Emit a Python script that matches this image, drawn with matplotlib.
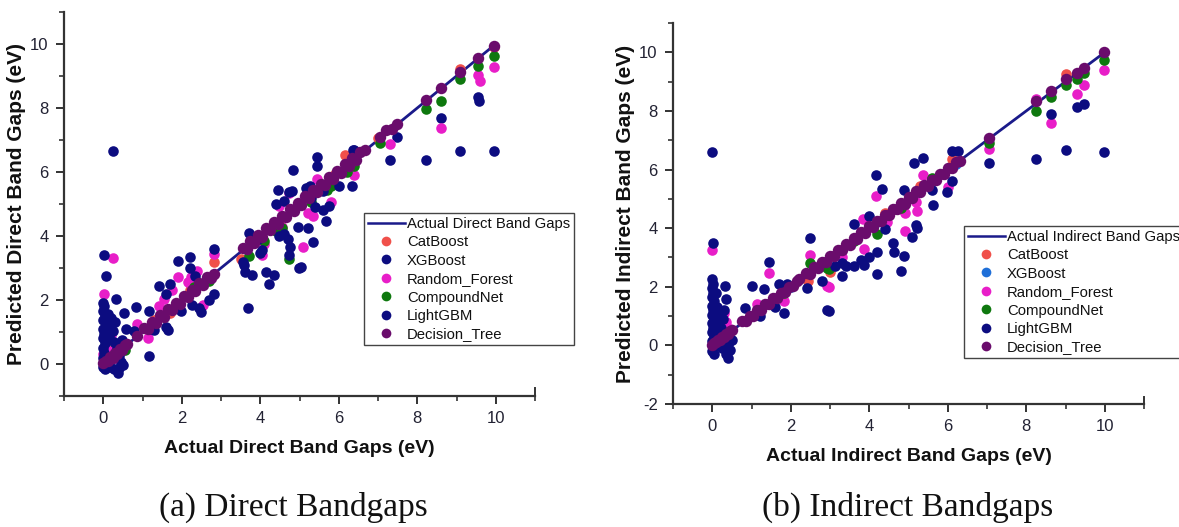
import matplotlib
matplotlib.use("Agg")
import matplotlib.pyplot as plt
from matplotlib.lines import Line2D

# ---------------- data : Direct band gaps (left) ----------------
d_dt_x = [0.0, 0.06, 0.12, 0.18, 0.24, 0.30, 0.36, 0.42, 0.48, 0.55, 0.60, 0.86,
          1.05, 1.15, 1.25, 1.35, 1.45, 1.55, 1.65, 1.75, 1.85, 1.95, 2.05, 2.15, 2.25,
          2.35, 2.45, 2.55, 2.65, 2.75, 2.83,
          3.55, 3.65, 3.75, 3.85, 3.95, 4.05, 4.15, 4.25, 4.35, 4.45, 4.55, 4.65, 4.75,
          4.85, 4.95, 5.05, 5.15, 5.25, 5.35, 5.45, 5.55, 5.65, 5.75, 5.85, 5.95, 6.05,
          6.15, 6.25, 6.35, 6.45, 6.55, 6.68,
          7.05, 7.20, 7.35, 7.48, 8.23, 8.61, 9.10, 9.55, 9.95]
d_dt_y = [0.02, 0.09, 0.08, 0.23, 0.20, 0.34, 0.32, 0.47, 0.44, 0.60, 0.62, 0.88,
          1.12, 1.08, 1.32, 1.29, 1.52, 1.48, 1.72, 1.69, 1.92, 1.88, 2.12, 2.08, 2.32,
          2.28, 2.52, 2.48, 2.72, 2.68, 2.82,
          3.64, 3.58, 3.84, 3.78, 4.04, 3.98, 4.24, 4.18, 4.44, 4.38, 4.64, 4.58, 4.84,
          4.78, 5.04, 4.98, 5.24, 5.18, 5.44, 5.38, 5.64, 5.58, 5.84, 5.78, 6.04, 5.98,
          6.24, 6.18, 6.44, 6.38, 6.62, 6.68,
          7.10, 7.30, 7.35, 7.49, 8.24, 8.64, 9.13, 9.55, 9.95]

d_cat_x = [0.25, 1.30, 2.83, 3.51, 4.50, 5.90, 6.17, 7.00, 9.10, 9.95, 2.20, 1.70]
d_cat_y = [0.45, 1.38, 3.18, 3.28, 4.35, 5.95, 6.52, 7.05, 9.23, 9.90, 2.30, 1.60]

d_xgb_x = [0.24, 9.95, 9.10, 8.23, 7.30, 9.55, 9.58, 8.61, 7.48]
d_xgb_y = [6.66, 6.66, 6.66, 6.39, 6.39, 8.35, 8.23, 7.70, 7.09]

d_rf_x = [0.24, 0.03, 0.86, 1.13, 1.43, 1.55, 1.75, 1.90, 2.24, 2.83, 2.55, 2.40, 2.15,
          0.05, 0.00, 0.20, 0.25, 0.50, 0.55, 0.30,
          4.48, 4.55, 4.10, 4.05, 5.09, 5.21, 5.34, 5.45, 5.81, 6.40, 4.73, 7.31,
          9.95, 9.55, 9.60, 8.61]
d_rf_y = [3.31, 2.18, 1.26, 0.82, 1.82, 2.03, 2.30, 2.71, 2.71, 3.44, 1.84, 2.90, 2.55,
          0.50, 0.30, 0.90, 0.40, 0.70, 0.55, 0.20,
          4.95, 4.27, 3.75, 3.40, 3.65, 4.72, 4.61, 5.79, 5.06, 5.90, 5.35, 6.87,
          9.29, 9.03, 8.85, 7.39]

d_cn_x = [3.71, 4.73, 9.95, 9.55, 9.10, 8.61, 8.23, 7.05, 4.55, 5.30, 5.70, 6.20, 2.30,
          2.70, 0.30, 0.55, 4.10, 4.40, 5.80, 6.40]
d_cn_y = [3.39, 3.28, 9.62, 9.30, 8.90, 8.22, 7.96, 6.90, 4.25, 5.05, 5.45, 6.00, 2.40,
          2.60, 0.35, 0.45, 3.85, 4.15, 5.55, 6.20]

d_lgb_x = [0.03, 0.07, 0.32, 0.00, 0.02, 0.00, 0.04, 0.00, 0.06, 0.00, 0.03, 0.00, 0.05,
           0.00, 0.02, 0.00, 0.03, 0.00, 0.05, 0.12, 0.15, 0.14, 0.20, 0.24, 0.28, 0.30,
           0.36, 0.40, 0.45, 0.41, 0.37, 0.50, 0.28, 0.18, 0.12, 0.47, 0.54, 0.57, 0.83,
           1.16, 1.17, 0.79, 1.20, 1.60, 1.43, 1.60, 1.70, 1.90, 2.20, 2.22, 2.35, 1.98,
           2.25, 2.45, 2.49, 2.70, 2.83, 2.83, 1.30, 1.64,
           3.68, 3.55, 3.60, 3.58, 3.78, 3.72, 4.00, 4.05, 4.15, 4.36, 4.23, 4.48, 4.60,
           4.70, 4.75, 4.73, 5.04, 4.98, 5.34, 5.21, 5.68, 5.60, 5.75, 4.45, 4.73, 4.83,
           5.45, 5.45, 5.27, 6.00, 6.34, 6.36, 6.40, 4.95, 5.30, 5.40, 5.60, 5.17, 4.80,
           4.40, 4.60, 3.95]
d_lgb_y = [3.42, 2.76, 2.04, 1.92, 1.80, 1.65, 1.50, 1.38, 1.25, 1.10, 0.95, 0.80, 0.65,
           0.50, 0.35, 0.20, 0.05, -0.10, -0.15, 1.55, 1.20, 0.85, 1.45, 1.03, 0.70, 1.30,
           0.50, 0.25, 0.05, -0.12, -0.28, -0.02, -0.15, -0.08, 0.10, 0.75, 1.60, 1.10, 1.77,
           1.67, 0.25, 1.03, 1.10, 1.15, 2.44, 2.20, 2.50, 3.23, 3.35, 3.00, 2.76, 1.66,
           1.85, 1.75, 1.61, 2.00, 2.18, 3.59, 1.06, 1.07,
           1.74, 3.20, 2.86, 3.09, 2.77, 4.09, 3.48, 3.55, 2.86, 2.79, 2.50, 4.01, 4.05,
           3.90, 3.65, 3.42, 3.04, 3.00, 3.80, 4.25, 4.46, 4.80, 4.95, 5.44, 5.37, 6.07,
           6.47, 6.18, 5.55, 5.55, 5.55, 6.68, 6.70, 4.27, 5.20, 4.90, 5.40, 5.50, 5.40,
           5.00, 5.10, 3.90]

# ---------------- data : Indirect band gaps (right) ----------------
i_dt_x = [0.0, 0.05, 0.10, 0.15, 0.20, 0.25, 0.30, 0.35, 0.40, 0.45, 0.50,
          0.76, 0.85, 0.95, 1.05, 1.15, 1.25, 1.35, 1.45, 1.55, 1.65, 1.75, 1.85, 1.95,
          2.05, 2.15, 2.22,
          2.40, 2.50, 2.60, 2.70, 2.80, 2.90, 3.00, 3.10, 3.20, 3.30, 3.40, 3.50, 3.60,
          3.70, 3.80, 3.90, 4.00, 4.10, 4.20, 4.30, 4.40, 4.50, 4.60, 4.70, 4.80, 4.90,
          5.00, 5.10, 5.20, 5.30, 5.40, 5.50, 5.60, 5.70, 5.80, 5.90, 6.00, 6.10, 6.20,
          6.30, 7.05, 8.26, 8.64, 9.02, 9.29, 9.46, 9.98]
i_dt_y = [0.03, 0.08, 0.10, 0.19, 0.19, 0.29, 0.28, 0.39, 0.38, 0.48, 0.52,
          0.82, 0.82, 1.00, 1.01, 1.20, 1.21, 1.40, 1.41, 1.60, 1.61, 1.80, 1.81, 2.00,
          2.01, 2.20, 2.25,
          2.46, 2.44, 2.66, 2.64, 2.86, 2.84, 3.06, 3.04, 3.26, 3.24, 3.46, 3.44, 3.66,
          3.64, 3.86, 3.84, 4.06, 4.04, 4.26, 4.24, 4.46, 4.44, 4.66, 4.64, 4.86, 4.84,
          5.06, 5.04, 5.26, 5.24, 5.46, 5.44, 5.66, 5.64, 5.86, 5.84, 6.06, 6.04, 6.26,
          6.30, 7.09, 8.34, 8.68, 9.08, 9.30, 9.48, 10.0]

i_cat_x = [0.20, 2.45, 3.00, 5.30, 6.10, 9.02, 1.20, 4.40]
i_cat_y = [0.30, 2.20, 2.50, 5.45, 6.35, 9.25, 1.30, 4.50]

i_xgb_x = [0.30, 1.00, 2.00, 3.20, 4.20, 5.20, 6.20]
i_xgb_y = [0.30, 1.00, 2.00, 3.20, 4.20, 5.20, 6.20]

i_rf_x = [0.00, 0.05, 0.10, 0.30, 0.35, 0.45, 1.44, 2.50, 2.97, 1.82, 1.15, 4.16, 5.37,
          5.20, 5.22, 4.90, 4.92, 2.93, 3.85, 3.86, 3.30, 4.45, 6.00, 7.05, 8.26, 8.64,
          9.29, 9.46, 9.98, 0.20]
i_rf_y = [3.25, 1.00, 0.60, 1.10, 0.80, 0.55, 2.48, 3.10, 2.00, 1.50, 1.40, 5.10, 5.80,
          4.90, 4.60, 4.50, 3.90, 2.02, 4.30, 3.30, 3.00, 4.20, 5.40, 6.69, 8.40, 7.60,
          8.59, 8.87, 9.40, 0.90]

i_cn_x = [2.50, 2.97, 2.93, 1.82, 4.20, 5.60, 7.05, 8.26, 8.64, 9.02, 9.29, 9.46, 9.98,
          0.30, 3.60, 4.80]
i_cn_y = [2.80, 2.60, 2.65, 1.80, 3.80, 5.70, 6.91, 8.00, 8.48, 8.90, 9.10, 9.30, 9.74,
          0.35, 3.55, 4.70]

i_lgb_x = [0.00, 0.03, 0.00, 0.03, 0.00, 0.02, 0.00, 0.04, 0.00, 0.03, 0.00, 0.05, 0.00,
           0.03, 0.00, 0.04, 0.00, 0.02, 0.00, 0.05, 0.10, 0.12, 0.10, 0.15, 0.20, 0.22,
           0.25, 0.33, 0.35, 0.30, 0.28, 0.39, 0.43, 0.40, 0.45, 0.35, 0.50,
           1.01, 0.84, 1.31, 1.44, 1.70, 1.90, 1.82, 1.60, 2.97, 2.41, 2.80, 1.22,
           2.50, 2.93, 3.31, 3.14, 3.40, 3.60, 3.86, 3.60, 4.00, 4.16, 4.33, 4.00, 4.20,
           4.41, 4.60, 4.62, 4.88, 4.80, 5.10, 5.20, 5.22, 5.14, 5.37, 4.88, 5.60, 5.62,
           5.97, 6.10, 6.10, 6.25, 7.05, 3.80, 3.30, 4.20,
           8.26, 8.64, 9.02, 9.30, 9.47, 9.98]
i_lgb_y = [6.60, 3.48, 2.25, 2.10, 1.95, 1.80, 1.65, 1.50, 1.35, 1.20, 1.05, 0.90, 0.75,
           0.60, 0.45, 0.30, 0.15, -0.05, -0.20, -0.28, 1.80, 1.30, 0.80, 0.40, 1.10, 0.60,
           -0.10, 2.02, 1.57, 1.20, 0.90, -0.42, 0.10, 0.30, -0.15, -0.30, 0.20,
           2.02, 1.29, 1.91, 2.84, 2.10, 2.10, 1.12, 1.30, 1.19, 1.97, 2.20, 1.00,
           3.67, 1.21, 2.37, 2.70, 2.70, 2.70, 2.75, 4.13, 4.40, 5.80, 5.32, 3.00, 2.45,
           3.98, 3.50, 3.20, 3.05, 2.55, 3.70, 4.10, 4.00, 6.21, 6.40, 5.30, 5.30, 4.80,
           5.25, 5.60, 6.63, 6.63, 6.24, 2.90, 2.80, 3.20,
           6.35, 7.88, 6.67, 8.13, 8.22, 6.61]

# ---------------- styling ----------------
C_CAT = "#f0504a"
C_XGB_D = "#0c0c80"
C_XGB_I = "#1f6fd8"
C_RF = "#e81ec8"
C_CN = "#0e780e"
C_LGB = "#0c0c80"
C_DT = "#6a0c6c"
C_LINE = "#1a1a8a"
TXT = "#222233"

plt.rcParams["font.family"] = ["Liberation Sans", "DejaVu Sans"]
plt.rcParams["axes.unicode_minus"] = False

fig = plt.figure(figsize=(11.79, 5.27), dpi=100)
ax1 = fig.add_axes([64 / 1179, 1 - 396 / 527, 471 / 1179, 384 / 527])
ax2 = fig.add_axes([673 / 1179, 1 - 404 / 527, 471 / 1179, 381 / 527])

S = 58
S_DT = 68


def draw(ax, series, ylim, yticks, xlabel, ylabel, xgb_color):
    ax.plot([0, 10], [0, 10], color=C_LINE, lw=2, zorder=1)
    (catx, caty), (xgbx, xgby), (rfx, rfy), (cnx, cny), (lgbx, lgby), (dtx, dty) = series
    ax.scatter(catx, caty, s=S, color=C_CAT, lw=0, zorder=2)
    ax.scatter(xgbx, xgby, s=S, color=xgb_color, lw=0, zorder=2)
    ax.scatter(rfx, rfy, s=S, color=C_RF, lw=0, zorder=3)
    ax.scatter(cnx, cny, s=S, color=C_CN, lw=0, zorder=4)
    ax.scatter(lgbx, lgby, s=S, color=C_LGB, lw=0, zorder=5)
    ax.scatter(dtx, dty, s=S_DT, color=C_DT, lw=0, zorder=6)
    ax.set_xlim(-1, 11)
    ax.set_ylim(*ylim)
    ax.set_xticks([0, 2, 4, 6, 8, 10])
    ax.set_xticks([-1, 1, 3, 5, 7, 9, 11], minor=True)
    ax.set_yticks(yticks)
    ax.set_yticks([v for v in range(int(ylim[0]), 12) if v % 2 != 0], minor=True)
    for s in ["top", "right"]:
        ax.spines[s].set_visible(False)
    for s in ["left", "bottom"]:
        ax.spines[s].set_color("#333333")
        ax.spines[s].set_linewidth(1.6)
    ax.tick_params(which="major", length=6, width=1.4, color="#333333",
                   labelsize=12, labelcolor=TXT, pad=5)
    ax.tick_params(which="minor", length=3.5, width=1.2, color="#333333")
    ax.plot([11, 11], [ylim[0], ylim[0] + 0.25], color="#333333", lw=1.4,
            clip_on=False, zorder=7)
    ax.set_xlabel(xlabel, fontsize=14, fontweight="bold", color="#111111", labelpad=10)
    ax.set_ylabel(ylabel, fontsize=15, fontweight="bold", color="#111111", labelpad=3)


draw(ax1, [(d_cat_x, d_cat_y), (d_xgb_x, d_xgb_y), (d_rf_x, d_rf_y), (d_cn_x, d_cn_y),
           (d_lgb_x, d_lgb_y), (d_dt_x, d_dt_y)],
     (-1, 11), [0, 2, 4, 6, 8, 10],
     "Actual Direct Band Gaps (eV)", "Predicted Direct Band Gaps (eV)", C_XGB_D)
draw(ax2, [(i_cat_x, i_cat_y), (i_xgb_x, i_xgb_y), (i_rf_x, i_rf_y), (i_cn_x, i_cn_y),
           (i_lgb_x, i_lgb_y), (i_dt_x, i_dt_y)],
     (-2, 11), [-2, 0, 2, 4, 6, 8, 10],
     "Actual Indirect Band Gaps (eV)", "Predicted Indirect Band Gaps (eV)", C_XGB_I)


def legend(line_label, xgb_color, anchor):
    handles = [Line2D([], [], color=C_LINE, lw=1.8)]
    for c in [C_CAT, xgb_color, C_RF, C_CN, C_LGB, C_DT]:
        handles.append(Line2D([], [], ls="none", marker="o", ms=7, mec="none", mfc=c))
    labels = [line_label, "CatBoost", "XGBoost", "Random_Forest", "CompoundNet",
              "LightGBM", "Decision_Tree"]
    lg = fig.legend(handles, labels, loc="upper left", bbox_to_anchor=anchor,
                    bbox_transform=fig.transFigure, fontsize=10.7, frameon=True,
                    fancybox=False, edgecolor="#444444", framealpha=1,
                    handlelength=2.5, handletextpad=0.15, labelspacing=0.3,
                    borderpad=0.25, borderaxespad=0)
    lg.get_frame().set_linewidth(1.0)
    for t in lg.get_texts():
        t.set_color("#111111")


legend("Actual Direct Band Gaps", C_XGB_D, (364 / 1179, 1 - 213 / 527))
legend("Actual Indirect Band Gaps", C_XGB_I, (964 / 1179, 1 - 226 / 527))

fig.text(293 / 1179, 1 - 507 / 527, "(a) Direct Bandgaps", ha="center", va="center",
         fontsize=24, family=["Liberation Serif", "DejaVu Serif"], color="#111111")
fig.text(908 / 1179, 1 - 507 / 527, "(b) Indirect Bandgaps", ha="center", va="center",
         fontsize=24, family=["Liberation Serif", "DejaVu Serif"], color="#111111")

fig.savefig("out.png", dpi=100)
